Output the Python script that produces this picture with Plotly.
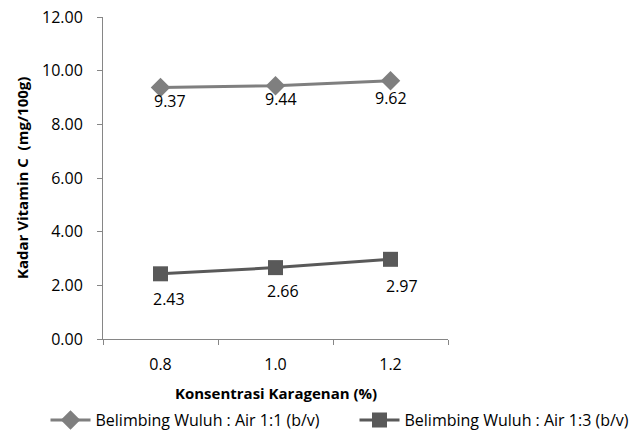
import plotly.graph_objects as go

categories = ["0.8", "1.0", "1.2"]
series_1_1 = [9.37, 9.44, 9.62]
series_1_3 = [2.43, 2.66, 2.97]
name_1_1 = "Belimbing Wuluh : Air 1:1 (b/v)"
name_1_3 = "Belimbing Wuluh : Air 1:3 (b/v)"
x_title = "Konsentrasi Karagenan (%)"
y_title = "Kadar Vitamin C  (mg/100g)"

# pixel offsets of the data labels (below / right of each point), style only
label_shift_1_1 = [(9, -13), (5, -13), (0, -17)]
label_shift_1_3 = [(8, -25), (7, -23), (11, -27)]

FONT = "Open Sans"
W, H = 633, 430
fig = go.Figure()
fig.add_trace(go.Scatter(
    x=categories, y=series_1_1, name=name_1_1, mode="lines+markers",
    line=dict(color="#7f7f7f", width=3),
    marker=dict(symbol="diamond", size=15, color="#7f7f7f"),
    legend="legend",
))
fig.add_trace(go.Scatter(
    x=categories, y=series_1_3, name=name_1_3, mode="lines+markers",
    line=dict(color="#595959", width=3),
    marker=dict(symbol="square", size=15, color="#595959"),
    legend="legend2",
))

annotations = []
for vals, shifts in ((series_1_1, label_shift_1_1), (series_1_3, label_shift_1_3)):
    for i, (v, (dx, dy)) in enumerate(zip(vals, shifts)):
        annotations.append(dict(
            x=i, y=v, xref="x", yref="y", text=f"{v:.2f}", showarrow=False,
            xshift=dx, yshift=dy, xanchor="center", yanchor="middle",
            font=dict(family=FONT, size=16, color="#000000")))
annotations += [
    dict(text=f"<b>{x_title}</b>", xref="paper", yref="paper",
         x=0.5, y=-(393 - 339) / 322, xanchor="center", yanchor="middle",
         showarrow=False, font=dict(family=FONT, size=15, color="#000000")),
    dict(text=f"<b>{y_title}</b>", xref="paper", yref="paper",
         x=-(103 - 22) / 345, y=0.5, xanchor="center", yanchor="middle",
         textangle=-90, showarrow=False,
         font=dict(family=FONT, size=15, color="#000000")),
]

leg_common = dict(orientation="h", xref="container", yref="container",
                  xanchor="left", y=1 - 420 / 430, yanchor="middle",
                  font=dict(family=FONT, size=16, color="#000000"),
                  itemwidth=40, bgcolor="rgba(0,0,0,0)")
fig.update_layout(
    width=W, height=H,
    margin=dict(l=103, r=185, t=17, b=91, autoexpand=False),
    plot_bgcolor="white", paper_bgcolor="white",
    font=dict(family=FONT, size=15, color="#000000"),
    showlegend=True,
    legend=dict(x=(52 - 6.5) / W, **leg_common),
    legend2=dict(x=(361 - 6.5) / W, **leg_common),
    xaxis=dict(
        type="category", range=[-0.5, 2.5], showgrid=False, automargin=False,
        showline=True, linecolor="#868686", linewidth=1,
        ticks="outside", tickson="boundaries", tickcolor="#868686", ticklen=5,
        ticklabelstandoff=11, ticklabeloverflow="allow",
        tickfont=dict(family=FONT, size=16),
    ),
    yaxis=dict(
        range=[0, 12], dtick=2, tickformat=".2f", showgrid=False, zeroline=False,
        automargin=False,
        showline=True, linecolor="#868686", linewidth=1,
        ticks="outside", tickcolor="#868686", ticklen=5,
        ticklabelstandoff=11, ticklabeloverflow="allow",
        tickfont=dict(family=FONT, size=16),
    ),
    annotations=annotations,
)
fig.write_html("out.html", config={"displayModeBar": False},
               post_script="document.body.style.margin='0';document.body.style.overflow='hidden';")
